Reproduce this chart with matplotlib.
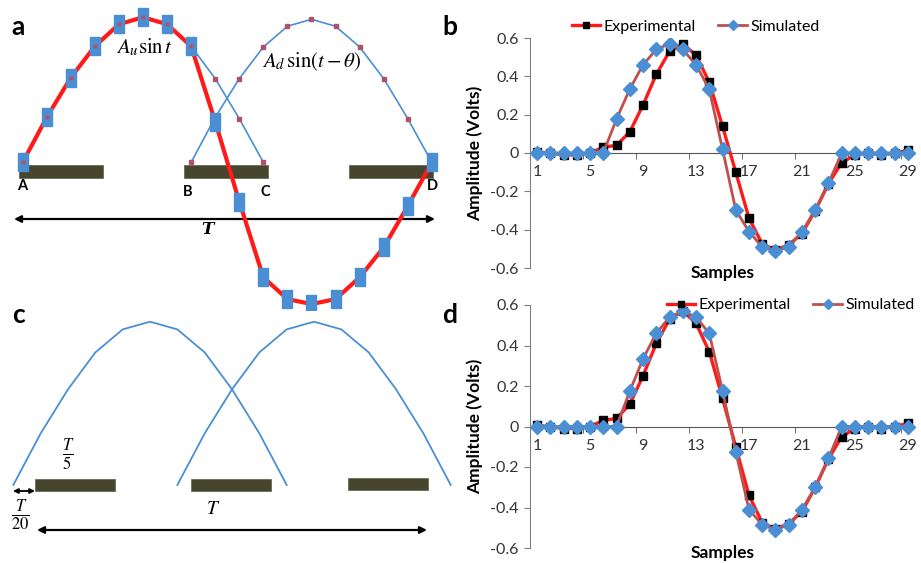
import numpy as np
import matplotlib
matplotlib.use("Agg")
import matplotlib.pyplot as plt
from matplotlib.path import Path

plt.rcParams["font.family"] = ["Lato", "DejaVu Sans"]
plt.rcParams["mathtext.fontset"] = "stix"

W, H = 921, 563

# ---- data: panels b and d (samples 1..29) ----
samples = np.arange(1, 30)
exp_b = [0.005, 0.0, -0.01, -0.01, 0.0, 0.03, 0.04, 0.11, 0.25, 0.41,
         0.53, 0.57, 0.51, 0.37, 0.14, -0.10, -0.34, -0.475, -0.505, -0.48,
         -0.42, -0.30, -0.16, -0.05, -0.01, 0.0, -0.01, 0.0, 0.015]
sim_b = [0.0, 0.0, 0.0, 0.0, 0.0, 0.0, 0.177, 0.333, 0.46, 0.54,
         0.57, 0.54, 0.46, 0.333, 0.02, -0.297, -0.41, -0.49, -0.51, -0.49,
         -0.41, -0.297, -0.157, 0.0, 0.0, 0.0, 0.0, 0.0, 0.0]
exp_d = exp_b
sim_d = [0.0, 0.0, 0.0, 0.0, 0.0, 0.0, 0.0, 0.174, 0.334, 0.46,
         0.54, 0.57, 0.54, 0.46, 0.177, -0.125, -0.41, -0.485, -0.51, -0.485,
         -0.41, -0.30, -0.157, 0.0, 0.0, 0.0, 0.0, 0.0, 0.0]
yticks = [-0.6, -0.4, -0.2, 0, 0.2, 0.4, 0.6]
xtick_labels = [1, 5, 9, 13, 17, 21, 25, 29]

# ---- data: diagram a (sample index, relative amplitude) ----
a_up_idx = np.arange(0, 11)
a_up = [0, 0.31, 0.584, 0.80, 0.952, 1.0, 0.952, 0.80, 0.577, 0.301, 0]
a_dn_idx = np.arange(7, 18)
a_dn = [0, 0.31, 0.577, 0.795, 0.938, 0.986, 0.938, 0.795, 0.577, 0.301, 0]
a_red_idx = np.arange(0, 18)
a_red = [0, 0.31, 0.584, 0.80, 0.952, 1.0, 0.952, 0.80, 0.28, -0.271,
         -0.793, -0.943, -0.977, -0.943, -0.793, -0.586, -0.301, 0]

# ---- data: diagram c ----
c1_idx = np.arange(0, 11)
c2_idx = np.arange(6, 17)
c_amp = [0, 0.316, 0.586, 0.812, 0.953, 1.0, 0.953, 0.812, 0.586, 0.316, 0]

RED = "#FF1A1A"
BROWN = "#C0504D"
BLUE = "#4A8FD4"
BAR = "#46462F"


def px_axes(fig, x0, y0, x1, y1, **kw):
    return fig.add_axes([x0 / W, 1 - y1 / H, (x1 - x0) / W, (y1 - y0) / H], **kw)


fig = plt.figure(figsize=(W / 100, H / 100), dpi=100)

# overlay in pixel coordinates for labels, bars and arrows
ov = px_axes(fig, 0, 0, W, H)
ov.set_xlim(0, W)
ov.set_ylim(H, 0)
ov.axis("off")

for lab, x, y in [("a", 18, 27), ("b", 450, 27), ("c", 18, 315), ("d", 450, 315)]:
    ov.text(x, y, lab, fontsize=19, fontweight="bold", ha="center", va="center")

for x0, y0, x1, y1 in [(19, 165, 103, 178), (184, 165, 268, 178), (349, 165, 433, 178),
                       (35, 479, 115, 491), (191, 479, 271, 491), (348, 478, 428, 490)]:
    ov.add_patch(plt.Rectangle((x0, y0), x1 - x0, y1 - y0, fc=BAR, ec="#6b6b55", lw=0.6))

for lab, x, y in [("A", 22, 186), ("B", 188, 192), ("C", 265, 192), ("D", 432, 186)]:
    ov.text(x, y, lab, fontsize=10.5, fontweight="bold", ha="center", va="center")

arrow = dict(arrowstyle="<|-|>", color="black", lw=1.6, mutation_scale=10, shrinkA=0, shrinkB=0)
ov.annotate("", xy=(435, 219), xytext=(14, 219), arrowprops=arrow)
ov.text(207, 229, "T", fontsize=12, fontweight="bold", style="italic", family="DejaVu Serif",
        ha="center", va="center")
ov.annotate("", xy=(427, 530), xytext=(37, 530), arrowprops=arrow)
ov.annotate("", xy=(35, 491), xytext=(13, 491),
            arrowprops=dict(arrowstyle="<|-|>", color="black", lw=1.3, mutation_scale=7,
                            shrinkA=0, shrinkB=0))
ov.text(68, 455, r"$\frac{T}{5}$", fontsize=17, ha="center", va="center")
ov.text(20, 515, r"$\frac{T}{20}$", fontsize=17, ha="center", va="center")
ov.text(213, 508, r"$T$", fontsize=14, ha="center", va="center")
ov.text(145, 47, r"$A_u\sin t$", fontsize=15, ha="center", va="center")
ov.text(312, 62, r"$A_d\,\sin(t-\theta)$", fontsize=15, ha="center", va="center")
ov.text(723, 273, "Samples", fontsize=12.5, fontweight="bold", ha="center", va="center")
ov.text(723, 553, "Samples", fontsize=12.5, fontweight="bold", ha="center", va="center")

# panel a
rect = Path([(-0.55, -1), (0.55, -1), (0.55, 1), (-0.55, 1), (-0.55, -1)])
axa = px_axes(fig, 0, 0, 460, 310)
axa.patch.set_alpha(0)
axa.set_xlim(-0.942, 18.17)
axa.set_ylim(-1.018, 1.119)
axa.axis("off")
axa.plot(a_up_idx, a_up, color=BLUE, lw=1.2, marker="s", ms=3, mfc="#B0506A", mec="#B0506A", zorder=2)
axa.plot(a_dn_idx, a_dn, color=BLUE, lw=1.2, marker="s", ms=3, mfc="#B0506A", mec="#B0506A", zorder=2)
axa.plot(a_red_idx, a_red, color=RED, lw=3, zorder=3)
axa.plot(a_red_idx, a_red, ls="none", marker=rect, ms=13, mfc=BLUE, mec=BLUE, zorder=4)
axa.plot(a_up_idx, a_up, ls="none", marker="s", ms=2.5, mfc="#B0506A", mec="none", zorder=5)

# panel c
axc = px_axes(fig, 0, 300, 460, 563)
axc.patch.set_alpha(0)
axc.set_xlim(-0.488, 16.34)
axc.set_ylim(-0.478, 1.133)
axc.axis("off")
axc.plot(c1_idx, c_amp, color=BLUE, lw=1.3)
axc.plot(c2_idx, c_amp, color=BLUE, lw=1.3)


def wave_panel(y_top, y_bot, exp, sim, legend_anchor, legend_loc):
    ax = px_axes(fig, 530, y_top, 915, y_bot)
    ax.patch.set_alpha(0)
    ax.plot(samples, exp, color=RED, lw=2.4, marker="s", ms=6, mfc="black", mec="black",
            label="Experimental", zorder=3)
    ax.plot(samples, sim, color=BROWN, lw=2.0, marker="D", ms=7, mfc=BLUE, mec=BLUE,
            label="Simulated", zorder=4)
    ax.set_xlim(0.47, 29.53)
    ax.set_ylim(-0.6, 0.6)
    ax.spines["top"].set_visible(False)
    ax.spines["right"].set_visible(False)
    ax.spines["left"].set_color("#7f7f7f")
    ax.spines["bottom"].set_position(("data", 0))
    ax.spines["bottom"].set_color("#555555")
    ax.set_yticks(yticks)
    ax.set_yticklabels([f"{v:g}" for v in yticks])
    ax.set_xticks(xtick_labels)
    ax.set_xticklabels([str(v) for v in xtick_labels])
    ax.set_xticks(np.arange(4.5, 29, 4), minor=True)
    ax.tick_params(axis="x", which="major", length=0, pad=9, labelsize=11.5, labelcolor="#333333")
    ax.tick_params(axis="x", which="minor", length=4, direction="out", color="#555555")
    ax.tick_params(axis="y", length=4, color="#7f7f7f", labelsize=11.5, labelcolor="#333333", pad=4)
    ax.set_ylabel("Amplitude (Volts)", fontsize=12.5, fontweight="bold", labelpad=5)
    ax.legend(loc=legend_loc, bbox_to_anchor=legend_anchor, ncol=2, frameon=False,
              fontsize=11.5, handlelength=1.8, columnspacing=1.4, handletextpad=0.2,
              borderaxespad=0, markerscale=0.8)
    return ax


wave_panel(38, 268, exp_b, sim_b, (0.43, 1.05), "center")
wave_panel(305, 548, exp_d, sim_d, (1.015, 1.0), "center right")

fig.savefig("out.png", dpi=100)
